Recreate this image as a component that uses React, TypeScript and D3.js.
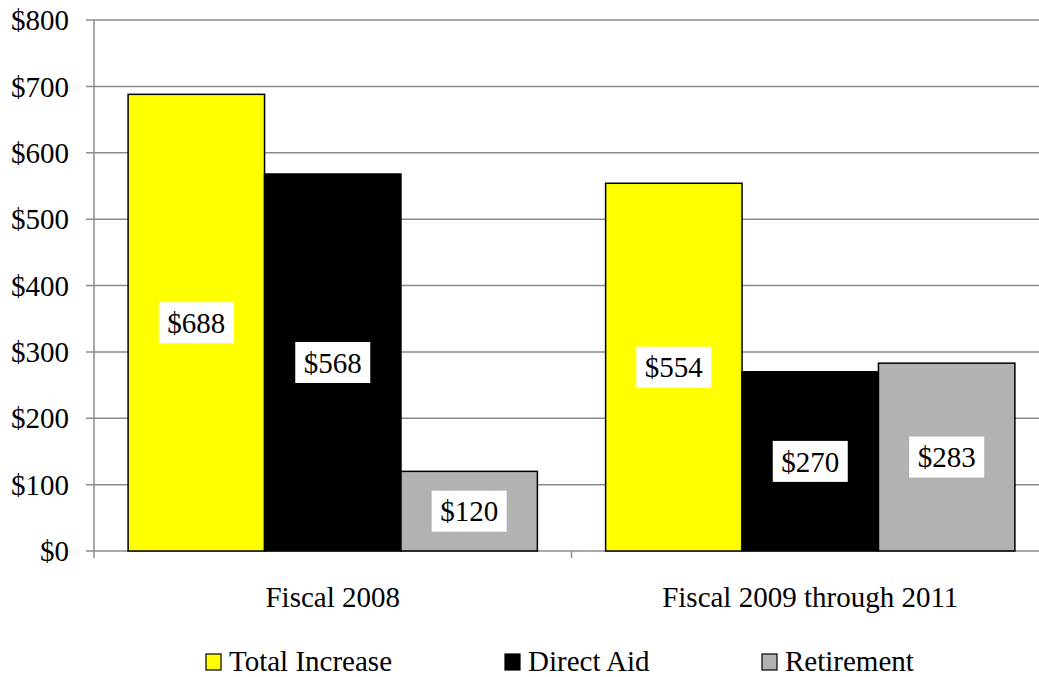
import React from "react";
import * as d3 from "d3";

// chart values, in millions of dollars
const categories = ["Fiscal 2008", "Fiscal 2009 through 2011"];
const seriesNames = ["Total Increase", "Direct Aid", "Retirement"];
const totalIncrease = [688, 554];
const directAid = [568, 270];
const retirement = [120, 283];
const yTicks = [0, 100, 200, 300, 400, 500, 600, 700, 800];

const colors = ["#ffff00", "#000000", "#b2b2b2"];

const W = 1039;
const H = 677;
const FONT = '"Liberation Serif", "Times New Roman", Times, "DejaVu Serif", serif';

function App() {
  const values = [totalIncrease, directAid, retirement];

  // the plot runs past the right edge of the picture, as in the original
  const x0 = d3.scaleBand().domain(categories).range([94, 1049]).padding(0);
  const x1 = d3
    .scaleBand()
    .domain(seriesNames)
    .range([0, x0.bandwidth()])
    .paddingInner(0)
    .paddingOuter(0.25);
  const y = d3.scaleLinear().domain([0, 800]).range([551, 20]);

  const gridColor = "#8c8c8c";
  const legendX = [206, 505, 762];
  const txt = { fontFamily: FONT, fontSize: 29, fill: "#000" };

  return (
    <svg
      width={W}
      height={H}
      style={{ position: "absolute", left: 0, top: 0, background: "#fff", fontFamily: FONT }}
    >
      {/* gridlines and y ticks */}
      {yTicks.map((t) => (
        <g key={t}>
          <line x1={86} x2={W} y1={y(t)} y2={y(t)} stroke={gridColor} strokeWidth={1.5} />
          <text x={69} y={y(t)} dy="0.35em" textAnchor="end" style={txt}>
            ${t}
          </text>
        </g>
      ))}

      {/* y axis */}
      <line x1={94} x2={94} y1={y(800)} y2={558} stroke={gridColor} strokeWidth={1.5} />

      {/* category boundary ticks */}
      {categories.map((c) => (
        <line
          key={c}
          x1={(x0(c) as number) + x0.bandwidth()}
          x2={(x0(c) as number) + x0.bandwidth()}
          y1={y(0)}
          y2={558}
          stroke={gridColor}
          strokeWidth={1.5}
        />
      ))}

      {/* bars */}
      {categories.map((c, ci) =>
        seriesNames.map((s, si) => {
          const v = values[si][ci];
          const bx = (x0(c) as number) + (x1(s) as number);
          return (
            <rect
              key={c + s}
              x={bx}
              y={y(v)}
              width={x1.bandwidth()}
              height={y(0) - y(v)}
              fill={colors[si]}
              stroke="#000"
              strokeWidth={1.5}
            />
          );
        })
      )}

      {/* value labels */}
      {categories.map((c, ci) =>
        seriesNames.map((s, si) => {
          const v = values[si][ci];
          const cx = (x0(c) as number) + (x1(s) as number) + x1.bandwidth() / 2;
          const cy = (y(v) + y(0)) / 2;
          return (
            <g key={"l" + c + s}>
              <rect x={cx - 37.5} y={cy - 20.5} width={75} height={41} fill="#fff" />
              <text x={cx} y={cy} dy="0.35em" textAnchor="middle" style={txt}>
                ${v}
              </text>
            </g>
          );
        })
      )}

      {/* category labels */}
      {categories.map((c) => (
        <text
          key={"c" + c}
          x={(x0(c) as number) + x0.bandwidth() / 2}
          y={597}
          dy="0.35em"
          textAnchor="middle"
          style={txt}
        >
          {c}
        </text>
      ))}

      {/* legend */}
      {seriesNames.map((s, si) => (
        <g key={"lg" + s} transform={`translate(${legendX[si]},0)`}>
          <rect x={0} y={654} width={15} height={16} fill={colors[si]} stroke="#000" strokeWidth={1.2} />
          <text x={23} y={661} dy="0.35em" style={txt}>
            {s}
          </text>
        </g>
      ))}
    </svg>
  );
}

export default App;
